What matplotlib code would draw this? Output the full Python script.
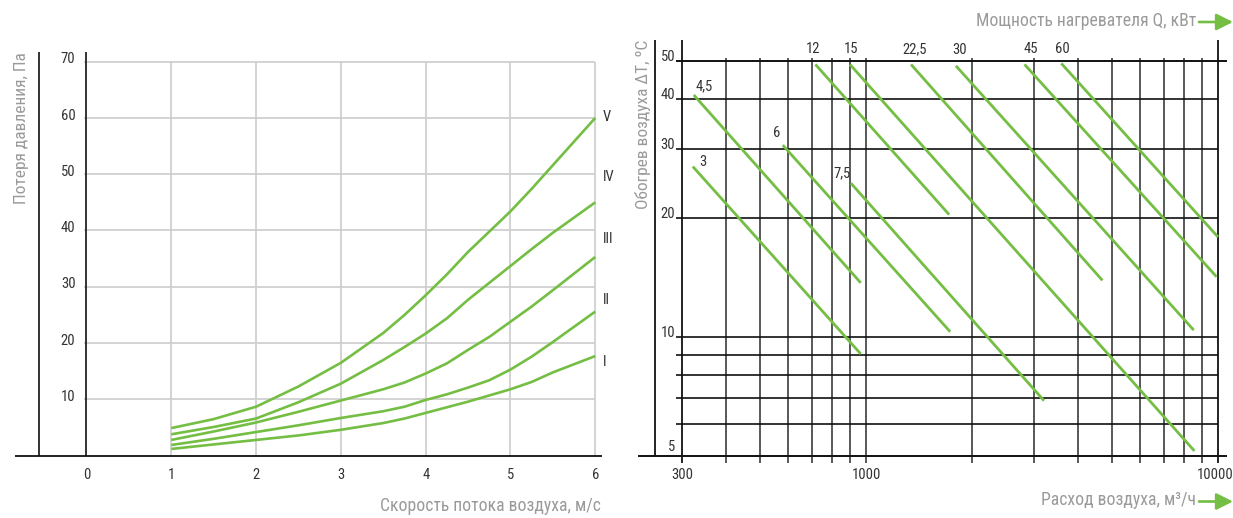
import matplotlib
matplotlib.use("Agg")
import matplotlib.pyplot as plt
from matplotlib import font_manager as fm
from matplotlib.patches import FancyArrowPatch

# ---------------- fonts ----------------
_names = {f.name for f in fm.fontManager.ttflist}
FONT = "DejaVu Sans"
for cand in ["Liberation Sans Narrow", "Roboto Condensed", "Open Sans Condensed", "Liberation Sans"]:
    if cand in _names:
        FONT = cand
        break
plt.rcParams["font.family"] = [FONT, "DejaVu Sans"]

# ---------------- data: left chart ----------------
speed = [1, 1.5, 2, 2.5, 3, 3.5, 3.75, 4, 4.25, 4.5, 4.75, 5, 5.25, 5.5, 6]
curve_V = [4.9, 6.5, 8.7, 12.3, 16.5, 21.8, 25.0, 28.5, 32.2, 36.2, 39.8, 43.4, 47.4, 51.6, 60.0]
curve_IV = [3.8, 5.1, 6.6, 9.5, 12.8, 17.0, 19.3, 21.7, 24.4, 27.7, 30.7, 33.7, 36.7, 39.6, 45.0]
curve_III = [2.8, 4.3, 5.9, 7.8, 9.8, 11.8, 13.0, 14.6, 16.4, 18.8, 21.1, 23.8, 26.5, 29.4, 35.3]
curve_II = [1.9, 3.0, 4.2, 5.4, 6.7, 7.9, 8.7, 9.9, 10.9, 12.1, 13.4, 15.3, 17.6, 20.2, 25.6]
curve_I = [1.2, 2.0, 2.8, 3.6, 4.6, 5.8, 6.6, 7.6, 8.6, 9.6, 10.7, 11.8, 13.1, 14.8, 17.7]
curve_names = ["V", "IV", "III", "II", "I"]
curve_label_y = [60.2, 49.5, 38.4, 27.7, 16.6]
left_xticks = [0, 1, 2, 3, 4, 5, 6]
left_yticks = [10, 20, 30, 40, 50, 60, 70]

# ---------------- data: right chart ----------------
q_labels = ["3", "4,5", "6", "7,5", "12", "15", "22,5", "30", "45", "60"]
q_start_flow = [322, 324, 580, 906, 718, 900, 1342, 1800, 2820, 3586]
q_start_dt = [27.0, 41.0, 30.6, 24.5, 49.0, 49.0, 49.0, 48.6, 49.0, 49.3]
q_end_flow = [966, 966, 1734, 3204, 1722, 8567, 4693, 8530, 9900, 10000]
q_end_dt = [9.05, 13.7, 10.3, 6.89, 20.4, 5.14, 13.9, 10.4, 14.2, 17.9]
flow_grid = [400, 500, 600, 700, 800, 900, 1000, 2000, 3000, 4000, 5000, 6000, 7000, 8000, 9000]
dt_grid = [6, 7, 8, 9, 10, 20, 30, 40]
right_xticks = [300, 1000, 10000]
right_yticks = [5, 10, 20, 30, 40, 50]

GREEN = "#74be44"
GREY_TXT = "#9a9a9a"
DARK_TXT = "#333333"
W, H = 1233, 518

fig = plt.figure(figsize=(W / 100, H / 100), dpi=100)


def frect(l, t, r, b):
    return [l / W, 1 - b / H, (r - l) / W, (b - t) / H]


# ================= LEFT CHART =================
axL = fig.add_axes(frect(15, 52, 602, 455.7))
axL.axis("off")
axL.set_xlim(-0.843, 6.079)
axL.set_ylim(0, 71.7)

axL.hlines(left_yticks, -0.03, 6, color="#cccccc", lw=1.2, zorder=1, clip_on=False)
axL.vlines(left_xticks[1:], 0, 70, color="#cccccc", lw=1.2, zorder=1, clip_on=False)
axL.vlines([0, -0.56], 0, 71.7, color="#111111", lw=1.2, zorder=3, clip_on=False)
axL.hlines([0], -0.843, 6.079, color="#111111", lw=1.3, zorder=3, clip_on=False)

for ys in [curve_V, curve_IV, curve_III, curve_II, curve_I]:
    axL.plot(speed, ys, color=GREEN, lw=1.9, zorder=4, clip_on=False,
             solid_capstyle="butt", solid_joinstyle="round")

for nm, yv in zip(curve_names, curve_label_y):
    axL.text(6.09, yv, nm, ha="left", va="center", fontsize=10.5, color=DARK_TXT)

for v in left_yticks:
    axL.text(-0.13, v - 0.3, str(v), ha="right", va="baseline", fontsize=10.5, color=DARK_TXT)
for v in left_xticks:
    axL.text(v, -2.1, str(v), ha="center", va="top", fontsize=10.5, color=DARK_TXT)

fig.text(22 / W, 1 - 52 / H, "Потеря давления, Па", rotation=90, ha="center", va="top",
         fontsize=12.5, color=GREY_TXT)
fig.text(601 / W, 1 - 506 / H, "Скорость потока воздуха, м/с", ha="right", va="center",
         fontsize=12.7, color=GREY_TXT)

# ================= RIGHT CHART =================
axR = fig.add_axes(frect(638, 40, 1227, 463))
axR.axis("off")
axR.set_xscale("log")
axR.set_yscale("log")
XMIN, XMAX = 224.96, 10604
YMIN, YMAX = 4.79, 56.5
axR.set_xlim(XMIN, XMAX)
axR.set_ylim(YMIN, YMAX)

# vertical grid
axR.vlines(flow_grid, YMIN, 50.9, color="#3c3c3c", lw=1.2, zorder=2)
axR.vlines([300, 10000], YMIN, YMAX, color="#111111", lw=1.3, zorder=2)
# horizontal grid
axR.hlines(dt_grid, 288.3, 10000, color="#111111", lw=1.2, zorder=2)
axR.hlines([50], 288.3, XMAX, color="#111111", lw=1.4, zorder=2)
axR.hlines([5], XMIN, XMAX, color="#111111", lw=1.4, zorder=2)
axR.vlines([251.6], 5, YMAX, color="#111111", lw=1.3, zorder=2)

label_offsets = [(10, 5), (10, 9), (-6, 12), (-9, 10), (-2, 15), (1, 15), (4, 15), (4, 16), (6, 15), (1, 14)]
for lab, sf, sd, ef, ed, off in zip(q_labels, q_start_flow, q_start_dt, q_end_flow, q_end_dt, label_offsets):
    axR.plot([sf, ef], [sd, ed], color=GREEN, lw=2.0, zorder=4, solid_capstyle="butt")
    axR.annotate(lab, (sf, sd), xytext=off, textcoords="offset pixels", ha="center", va="center",
                 fontsize=10.5, color=DARK_TXT, zorder=5)

xtick_offsets = {300: 0, 1000: 0, 10000: -3}
for v in right_xticks:
    axR.annotate(str(v), (v, YMIN), xytext=(xtick_offsets[v], -5), textcoords="offset pixels",
                 ha="center", va="top", fontsize=10.5, color=DARK_TXT)
for v in right_yticks:
    yy = v if v != 5 else 5.14
    axR.annotate(str(v), (251.6, yy), xytext=(20, 0), textcoords="offset pixels",
                 ha="right", va="baseline", fontsize=10.5, color=DARK_TXT)

fig.text(643 / W, 1 - 40 / H, "Обогрев воздуха ΔT, ºC", rotation=90, ha="center", va="top",
         fontsize=12.5, color=GREY_TXT)
fig.text(1196 / W, 1 - 21 / H, "Мощность нагревателя Q, кВт", ha="right", va="center",
         fontsize=12.7, color=GREY_TXT)
fig.text(1196 / W, 1 - 500 / H, "Расход воздуха, м³/ч", ha="right", va="center",
         fontsize=12.7, color=GREY_TXT)

for ypx in (22, 501.5):
    arr = FancyArrowPatch((1199 / W, 1 - ypx / H), (1233 / W, 1 - ypx / H),
                          transform=fig.transFigure,
                          arrowstyle="-|>,head_length=1.0,head_width=0.5",
                          mutation_scale=10, lw=1.9, color=GREEN, shrinkA=0, shrinkB=0)
    fig.add_artist(arr)

fig.savefig("out.png", dpi=100)
